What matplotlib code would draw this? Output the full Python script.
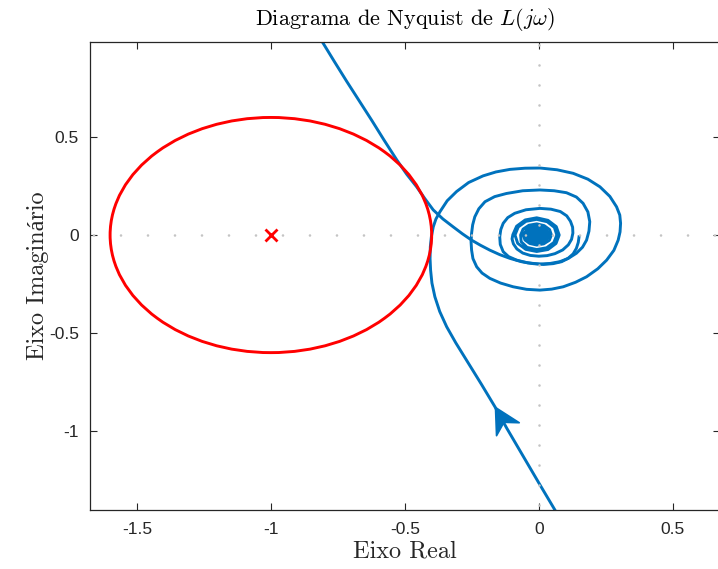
import numpy as np
import matplotlib
matplotlib.use("Agg")
import matplotlib.pyplot as plt
from matplotlib.patches import Circle
from matplotlib.path import Path
from matplotlib.markers import MarkerStyle
from matplotlib.transforms import Affine2D

# ---- data ----
# branch starting at w -> 0+ (bottom of plot), spiralling into the origin
branch_a_re = [0.060, 0.000, -0.060, -0.120, -0.164, -0.215, -0.270, -0.310, -0.344, -0.370,
               -0.388, -0.399, -0.404, -0.406, -0.405, -0.401, -0.394, -0.384, -0.369, -0.342,
               -0.307, -0.262, -0.208, -0.160, -0.108, -0.052, 0.004, 0.068, 0.128, 0.183,
               0.228, 0.265, 0.290, 0.302, 0.305, 0.303, 0.296, 0.280, 0.253, 0.220,
               0.178, 0.137, 0.091, 0.048, 0.004, -0.046, -0.096, -0.143, -0.183, -0.212,
               -0.232, -0.246, -0.251, -0.253, -0.251, -0.247, -0.239, -0.224, -0.201, -0.165,
               -0.121, -0.060, 0.004, 0.057, 0.103, 0.140, 0.165, 0.183, 0.190, 0.187,
               0.178, 0.163, 0.140, 0.110, 0.078, 0.042, 0.004, -0.042, -0.083, -0.113,
               -0.133, -0.144, -0.146, -0.142, -0.133, -0.116, -0.090, -0.048, 0.004, 0.045,
               0.080, 0.104, 0.118, 0.126, 0.127, 0.122, 0.110, 0.089, 0.060, 0.031,
               0.000, -0.032, -0.060, -0.082, -0.095, -0.100,
               # dense turns around the origin
               -0.097, -0.083, -0.051, -0.008, 0.034, 0.065, 0.076, 0.064, 0.034, -0.008, -0.049, -0.079,
               -0.089, -0.077, -0.048, -0.008, 0.031, 0.058, 0.067, 0.056, 0.029, -0.008, -0.044, -0.066,
               -0.068, -0.059, -0.037, -0.008, 0.020, 0.040, 0.047, 0.039, 0.018, -0.008, -0.034, -0.052,
               -0.058, -0.043, -0.008, 0.025, 0.038, 0.024, -0.008, -0.038,
               -0.050, -0.037, -0.008, 0.018, 0.028, 0.017, -0.008, -0.032,
               -0.041, -0.031, -0.008, 0.013, 0.020, 0.011, -0.008, -0.026,
               -0.032, -0.024, -0.008, 0.007, 0.012, 0.005, -0.008, -0.019,
               -0.022, -0.017, -0.008, 0.001, 0.004, 0.000, -0.008, -0.012, -0.008]
branch_a_im = [-1.403, -1.265, -1.125, -0.985, -0.876, -0.760, -0.638, -0.550, -0.468, -0.390,
               -0.315, -0.245, -0.179, -0.120, -0.060, -0.008, 0.042, 0.082, 0.119, 0.175,
               0.222, 0.268, 0.302, 0.322, 0.335, 0.341, 0.342, 0.333, 0.315, 0.285,
               0.246, 0.197, 0.144, 0.102, 0.060, 0.016, -0.026, -0.078, -0.128, -0.172,
               -0.213, -0.241, -0.264, -0.276, -0.281, -0.277, -0.264, -0.245, -0.221, -0.194,
               -0.162, -0.120, -0.077, -0.034, 0.009, 0.052, 0.093, 0.134, 0.170, 0.196,
               0.212, 0.226, 0.230, 0.226, 0.216, 0.194, 0.162, 0.118, 0.068, 0.020,
               -0.026, -0.062, -0.093, -0.119, -0.136, -0.145, -0.148, -0.142, -0.128, -0.110,
               -0.085, -0.048, -0.009, 0.028, 0.060, 0.089, 0.111, 0.129, 0.136, 0.132,
               0.120, 0.098, 0.070, 0.040, 0.010, -0.022, -0.050, -0.076, -0.095, -0.105,
               -0.108, -0.104, -0.092, -0.071, -0.045, -0.020,
               0.002, 0.045, 0.077, 0.088, 0.075, 0.043, 0.000, -0.043, -0.074, -0.084, -0.073, -0.042,
               0.000, 0.041, 0.070, 0.080, 0.068, 0.039, 0.000, -0.038, -0.065, -0.074, -0.063, -0.034,
               0.000, 0.030, 0.050, 0.057, 0.048, 0.028, 0.000, -0.027, -0.045, -0.051, -0.043, -0.025,
               0.000, 0.034, 0.047, 0.033, 0.000, -0.030, -0.041, -0.028,
               0.000, 0.028, 0.037, 0.025, 0.000, -0.023, -0.031, -0.021,
               0.000, 0.021, 0.027, 0.018, 0.000, -0.016, -0.021, -0.014,
               0.000, 0.014, 0.018, 0.012, 0.000, -0.010, -0.012, -0.008,
               0.000, 0.008, 0.010, 0.006, 0.000, -0.005, -0.006, -0.002, 0.000]
arrow_tail, arrow_tip = 2, 4  # points on branch a where the direction arrow sits

# branch coming in from the top left and ending in the small hook
branch_b_re = [-0.810, -0.763, -0.717, -0.670, -0.623, -0.577, -0.530, -0.493, -0.456, -0.425,
               -0.394, -0.358, -0.320, -0.285, -0.251, -0.218, -0.183, -0.146, -0.108, -0.065,
               -0.021, 0.017, 0.053, 0.085, 0.109, 0.128, 0.140, 0.147, 0.150]
branch_b_im = [0.990, 0.885, 0.784, 0.684, 0.584, 0.483, 0.383, 0.310, 0.246, 0.185,
               0.128, 0.082, 0.042, 0.006, -0.026, -0.052, -0.077, -0.100, -0.119, -0.136,
               -0.146, -0.150, -0.146, -0.136, -0.119, -0.096, -0.068, -0.038, -0.009]

critical_pt = (-1.0, 0.0)
circle_radius = 0.6

xticks = [-1.5, -1, -0.5, 0, 0.5]
xtick_labels = ["-1.5", "-1", "-0.5", "0", "0.5"]
yticks = [-1, -0.5, 0, 0.5]
ytick_labels = ["-1", "-0.5", "0", "0.5"]

blue = "#0072BD"
ink = "#262626"
serif = ["cmr10", "Liberation Serif", "DejaVu Serif"]
plt.rcParams["mathtext.fontset"] = "cm"

fig = plt.figure(figsize=(7.18, 5.69), dpi=100)
ax = fig.add_axes([90 / 718, 59 / 569, 630 / 718, 468 / 569])
ax.set_xlim(-1.675, 0.676)
ax.set_ylim(-1.403, 0.985)

# zero lines, light grey dots (drawn on top like in the reference)
dot = dict(color="#c4c4c4", lw=1.9, dash_capstyle="round", zorder=4)
ax.plot([0, -1.675], [0, 0], ls=(5.1, (0.01, 10.22)), **dot)
ax.plot([0, 0.676], [0, 0], ls=(5.1, (0.01, 10.22)), **dot)
ax.plot([0, 0], [0, 0.985], ls=(3.79, (0.01, 7.57)), **dot)
ax.plot([0, 0], [0, -1.403], ls=(3.79, (0.01, 7.57)), **dot)

ax.plot(branch_a_re, branch_a_im, color=blue, lw=2.1, solid_joinstyle="round", zorder=2)
ax.plot(branch_b_re, branch_b_im, color=blue, lw=2.1, solid_joinstyle="round", zorder=2)

# direction arrow on the w>0 branch: stealth-shaped head, rotated to the screen direction
p0 = ax.transData.transform((branch_a_re[arrow_tail], branch_a_im[arrow_tail]))
p1 = ax.transData.transform((branch_a_re[arrow_tip], branch_a_im[arrow_tip]))
ang = np.arctan2(p1[1] - p0[1], p1[0] - p0[0])
head = Path([(0, 0), (-22, 11.5), (-15, 0), (-22, -11.5), (0, 0)],
            [Path.MOVETO, Path.LINETO, Path.LINETO, Path.LINETO, Path.CLOSEPOLY])
ax.plot(branch_a_re[arrow_tip], branch_a_im[arrow_tip], ls="none",
        marker=MarkerStyle(head, transform=Affine2D().rotate(ang)),
        ms=36, color=blue, mec=blue, mew=1.2, zorder=3)

ax.add_patch(Circle(critical_pt, circle_radius, fill=False, ec="red", lw=2.1, zorder=3))
ax.plot(*critical_pt, "x", color="red", ms=8, mew=2, zorder=3)

ax.set_xticks(xticks)
ax.set_xticklabels(xtick_labels)
ax.set_yticks(yticks)
ax.set_yticklabels(ytick_labels)
ax.tick_params(direction="in", length=5, width=0.8, colors=ink, labelsize=12.5,
               top=True, right=True)
ax.tick_params(axis="x", pad=9)
ax.tick_params(axis="y", pad=8)
for lab in ax.get_xticklabels() + ax.get_yticklabels():
    lab.set_family(["Liberation Sans", "DejaVu Sans"])
for s in ax.spines.values():
    s.set_color(ink)
    s.set_linewidth(0.9)

ax.set_title(r"Diagrama de Nyquist de $L(j\omega)$", family=serif, fontsize=16, pad=12)
ax.set_xlabel("Eixo Real", family=serif, fontsize=17.5, labelpad=2, color=ink)
ax.set_ylabel("Eixo Imaginário", family=serif, fontsize=17.5, labelpad=0, color=ink)

fig.savefig("out.png", dpi=100)
